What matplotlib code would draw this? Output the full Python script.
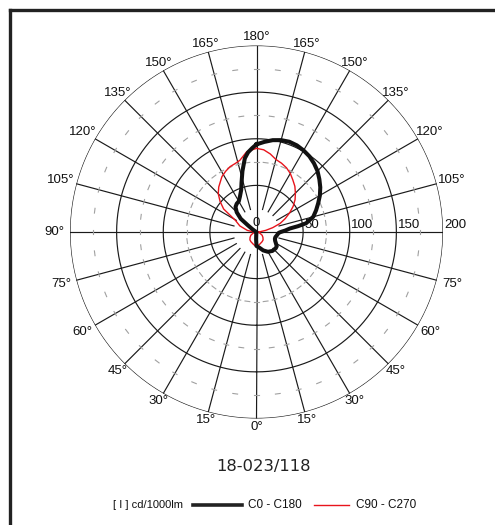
import numpy as np
import matplotlib.pyplot as plt
from matplotlib.lines import Line2D

plt.rcParams['font.family'] = ['Liberation Sans', 'DejaVu Sans']

# C0 half-plane (right side of the diagram), gamma in degrees, cd/1000lm
c0_ang = [0, 10, 20, 30, 40, 50, 55, 60, 65, 70, 75, 80, 85, 88, 90, 93, 96, 98, 100,
          105, 110, 115, 120, 125, 130, 135, 140, 145, 150, 155, 160, 165, 170, 175, 180]
c0_val = [15, 17, 21, 24.5, 26.5, 27, 26.5, 24, 22, 21, 21, 22, 23, 24, 26, 31, 36, 45, 54,
          63, 68, 73, 78.5, 83.5, 88, 92.5, 96, 99, 101, 102.5, 103, 102, 100, 97, 94]

# C180 half-plane (left side)
c180_ang = [0, 3, 6, 10, 20, 40, 60, 80, 100, 115, 120, 125, 128, 130, 135, 140, 145,
            150, 155, 160, 163, 167, 171, 174, 177, 180]
c180_val = [15, 8, 3, 1, 0, 0, 0, 0, 0, 0, 2, 6, 12, 22, 30, 35, 37,
            38, 42, 48, 55, 67, 80, 86, 90, 94]

# C90 half-plane (right side)
c90_ang = [0, 15, 30, 40, 50, 60, 70, 80, 90, 95, 100, 105, 110, 115, 120, 125, 130,
           135, 140, 145, 150, 155, 160, 165, 170, 175, 180]
c90_val = [16, 13.5, 12, 11, 9, 7, 4, 2, 1, 4, 10, 18, 27, 34, 41, 48, 54,
           59, 64, 68, 72.5, 76, 78.5, 80.5, 85, 88.5, 89.7]

# C270 half-plane (left side)
c270_ang = [0, 15, 30, 40, 50, 60, 70, 80, 90, 95, 100, 110, 119, 125, 130, 135, 140,
            148, 153, 158, 163, 167, 173, 180]
c270_val = [16, 13.5, 12, 11, 9, 7, 4, 2, 1, 4, 10, 19, 26, 43, 51, 58, 63,
            70, 73, 75.6, 77, 79, 86.7, 89.7]

ring_values = [50, 100, 150, 200]
dash_rings = [75, 125, 175]
spoke_angles = list(range(0, 360, 15))
code = '18-023/118'
unit_label = '[ I ] cd/1000lm'
series_names = ['C0 - C180', 'C90 - C270']

W, H = 495, 525
fig = plt.figure(figsize=(W / 100, H / 100), dpi=100)

# polar axes: centre at (256.5, 232) px, outer ring radius 186.5 px
cx, cy, R = 256.5, 232, 186.5
ax = fig.add_axes([(cx - R) / W, 1 - (cy + R) / H, 2 * R / W, 2 * R / H], projection='polar')
ax.set_theta_zero_location('S')
ax.set_theta_direction(1)
ax.set_ylim(0, 200)
ax.grid(False)
ax.set_xticks([])
ax.set_yticks([])
ax.spines['polar'].set_visible(False)
ax.patch.set_alpha(0)

gc = '#1a1a1a'
t = np.linspace(0, 2 * np.pi, 721)
for r in ring_values:
    ax.plot(t, np.full_like(t, r), color=gc, lw=0.85)

for a in spoke_angles:
    th = np.radians(a)
    r0 = 0 if a % 90 == 0 else 25
    ax.plot([th, th], [r0, 200], color=gc, lw=0.85)

# short grey dashes on the intermediate rings
px_per_unit = R / 200
for r in dash_rings:
    half = 2.4 / (r * px_per_unit)
    for k in range(48):
        th = np.radians(k * 7.5)
        ax.plot([th - half, th + half], [r, r], color='#a0a0a0', lw=0.8)

# intensity curves
th_c0 = np.radians(c0_ang)
th_c180 = -np.radians(c180_ang)
black = np.concatenate([th_c180[::-1], th_c0])
black_r = np.concatenate([c180_val[::-1], c0_val])
th_c90 = np.radians(c90_ang)
th_c270 = -np.radians(c270_ang)
red = np.concatenate([th_c270[::-1], th_c90])
red_r = np.concatenate([c270_val[::-1], c90_val])
ax.plot(red, red_r, color='#e8141c', lw=1.0, zorder=5)
ax.plot(black, black_r, color='#111111', lw=2.9, zorder=6, solid_joinstyle='round')

# angle labels round the outside
tw, th_ = 27, 12
for a in range(0, 181, 15):
    for side in (1, -1):
        if side == -1 and a in (0, 180):
            continue
        if side == 1 and a == 90:
            continue
        ang = np.radians(a)
        ux, uy = side * np.sin(ang), -np.cos(ang)
        d = min(tw / 2 / max(abs(ux), 1e-6), th_ / 2 / max(abs(uy), 1e-6)) + 2
        ax.annotate('%d°' % a, xy=(side * ang, 200), xytext=(ux * d * 0.72, uy * d * 0.72),
                    textcoords='offset points', ha='center', va='center',
                    fontsize=9.5, color='#111111', annotation_clip=False)

# intensity scale along the horizontal axis
for r in ring_values:
    ax.annotate(str(r), xy=(np.pi / 2, r), xytext=(1, 0.5), textcoords='offset points',
                ha='left', va='bottom', fontsize=9.5, color='#111111', annotation_clip=False)
ax.annotate('0', xy=(0, 0), xytext=(0, 2), textcoords='offset points',
            ha='center', va='bottom', fontsize=9.5, color='#111111')

fig.text(264 / W, 1 - 466 / H, code, ha='center', va='center',
         fontsize=11.8, family='DejaVu Sans', color='#222222')

# legend row
ly = 1 - 505 / H
fig.text(183 / W, ly, unit_label, ha='right', va='center', fontsize=8, color='#111111')
fig.add_artist(Line2D([193 / W, 242 / W], [ly, ly], color='#222222', lw=2.6))
fig.text(248 / W, ly, series_names[0], ha='left', va='center', fontsize=8.5, color='#111111')
fig.add_artist(Line2D([314 / W, 349 / W], [ly, ly], color='#e8141c', lw=1.0))
fig.text(356 / W, ly, series_names[1], ha='left', va='center', fontsize=8.5, color='#111111')

# frame (top and left edges)
fig.add_artist(Line2D([10 / W, 1], [1 - 10 / H, 1 - 10 / H], color='#222222', lw=2.4))
fig.add_artist(Line2D([10 / W, 10 / W], [0, 1 - 10 / H], color='#222222', lw=2.4))

fig.savefig('out.png', dpi=100)
